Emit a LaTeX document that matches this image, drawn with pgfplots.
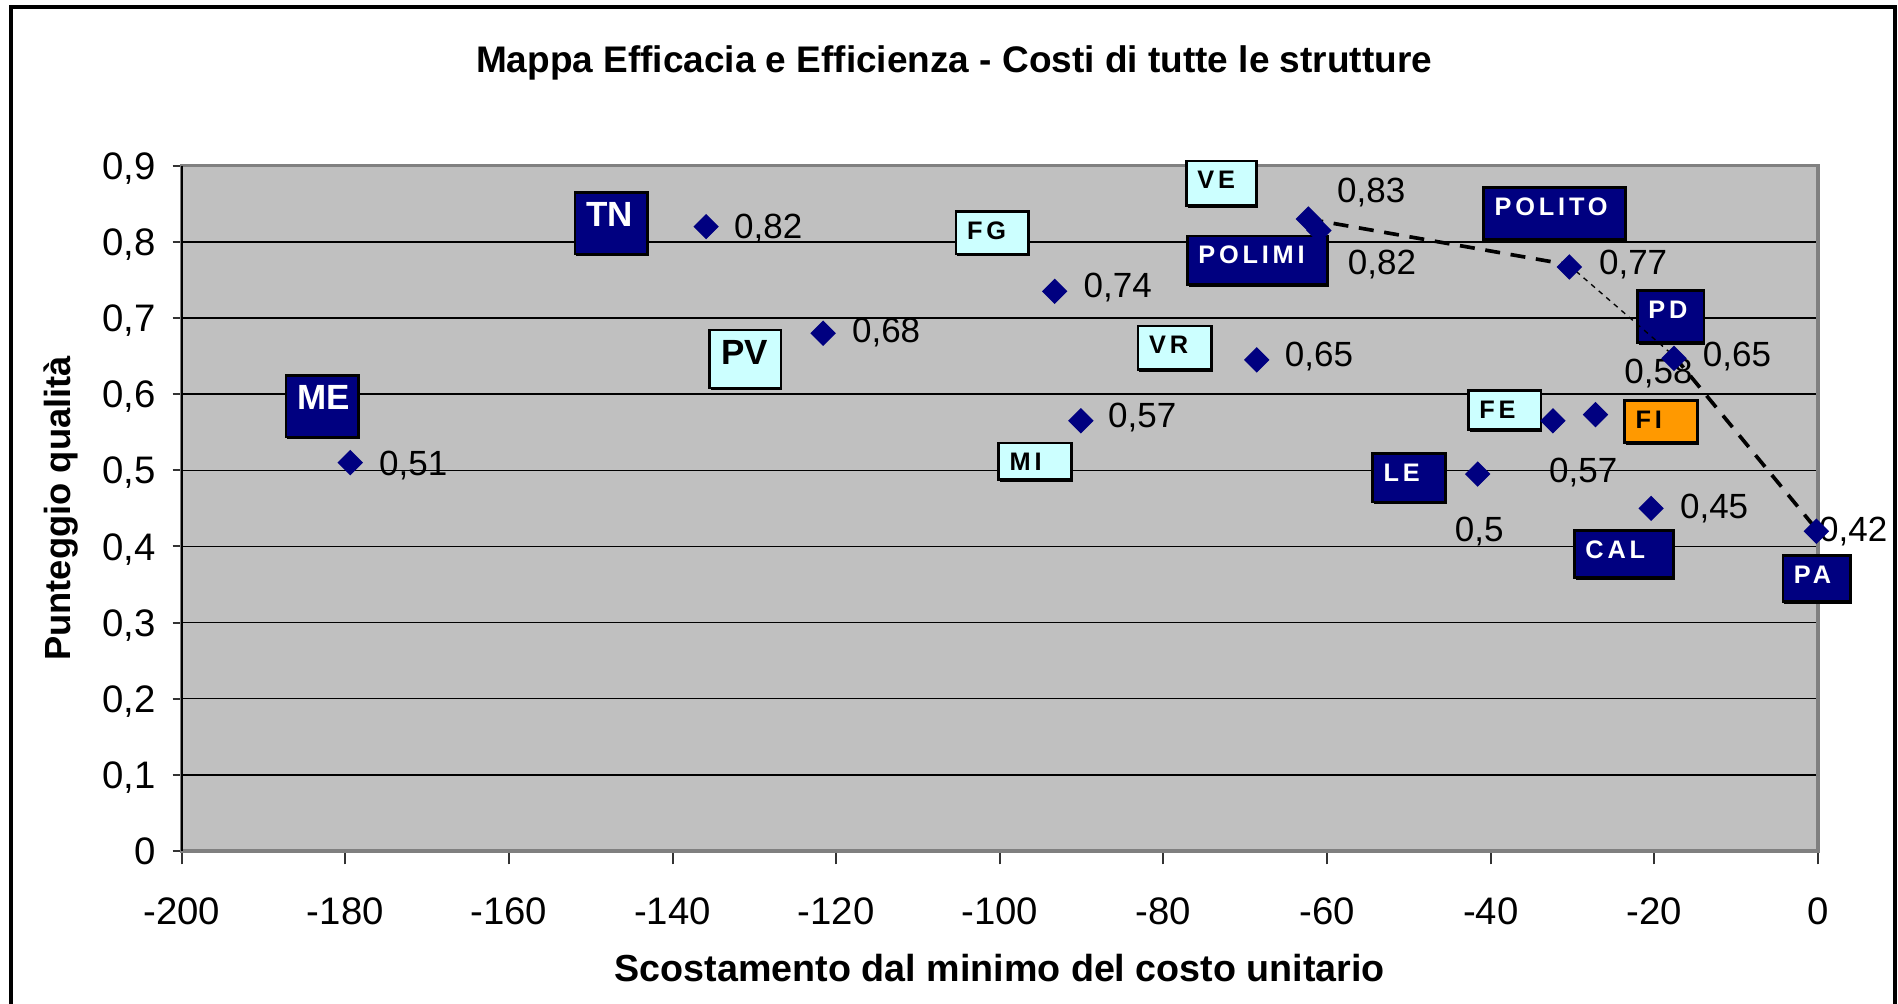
\documentclass[border=0pt]{standalone}
\usepackage{pgfplots}
\pgfplotsset{compat=1.18}
\usetikzlibrary{shadows}
\usepackage{fontspec}
\setmainfont{Liberation Sans}
\newfontfamily\boxfont{Liberation Sans}[LetterSpace=15]
\definecolor{navyb}{HTML}{000080}
\definecolor{cyanb}{HTML}{CCFFFF}
\definecolor{orangeb}{HTML}{FF9900}
\definecolor{plotbg}{HTML}{C0C0C0}
\definecolor{bordergray}{HTML}{808080}
\tikzset{
  lbox/.style={draw=black, line width=0.8pt, inner sep=0pt, anchor=center,
    general shadow={fill=black, shadow xshift=0.4pt, shadow yshift=-0.7pt}},
  nbox/.style={lbox, fill=navyb, label={[anchor=north west, inner sep=0pt, xshift=3.5pt, yshift=-3.3pt, text=white, font=\boxfont\bfseries\fontsize{7.6}{9}\selectfont]north west:#1}},
  cbox/.style={lbox, fill=cyanb, label={[anchor=north west, inner sep=0pt, xshift=3.5pt, yshift=-3.3pt, text=black, font=\boxfont\bfseries\fontsize{7.6}{9}\selectfont]north west:#1}},
  obox/.style={lbox, fill=orangeb, label={[anchor=north west, inner sep=0pt, xshift=3.5pt, yshift=-3.3pt, text=black, font=\boxfont\bfseries\fontsize{7.6}{9}\selectfont]north west:#1}},
  nbig/.style={lbox, fill=navyb, label={[anchor=north west, inner sep=0pt, xshift=3.6pt, yshift=-3.2pt, text=white, font=\bfseries\fontsize{10.5}{12}\selectfont]north west:#1}},
  cbig/.style={lbox, fill=cyanb, label={[anchor=north west, inner sep=0pt, xshift=3.6pt, yshift=-3.2pt, text=black, font=\bfseries\fontsize{10.5}{12}\selectfont]north west:#1}},
  dlab/.style={font=\fontsize{10.5}{12}\selectfont, inner sep=0pt, anchor=center, text height=7.5pt, text depth=0pt},
}
\begin{document}
\begin{tikzpicture}
\path[use as bounding box] (0,0) rectangle (569.4pt,-300.9pt);
\begin{axis}[
  at={(54.5pt,-255.3pt)}, anchor=south west,
  scale only axis, width=490.9pt, height=205.6pt,
  xmin=-200, xmax=0, ymin=0, ymax=0.9,
  clip=false,
  axis background/.style={fill=plotbg},
  axis line style={draw=bordergray, line width=1pt},
  xtick={-200,-180,-160,-140,-120,-100,-80,-60,-40,-20,0},
  xticklabels={-200,-180,-160,-140,-120,-100,-80,-60,-40,-20,0},
  ytick={0,0.1,0.2,0.3,0.4,0.5,0.6,0.7,0.8,0.9},
  yticklabels={0,{0,1},{0,2},{0,3},{0,4},{0,5},{0,6},{0,7},{0,8},{0,9}},
  tick pos=left,
  tick align=outside,
  xtick style={black!80, line width=0.6pt, /pgfplots/major tick length=4pt},
  ytick style={black!80, line width=0.6pt, /pgfplots/major tick length=2.7pt},
  ymajorgrids, grid style={black, line width=0.45pt},
  xticklabel style={font=\fontsize{11.5}{13}\selectfont, inner sep=0pt, anchor=center, text height=8.2pt, text depth=0pt, yshift=-13.8pt},
  yticklabel style={font=\fontsize{11.5}{13}\selectfont, inner sep=0pt, anchor=east, text height=8.2pt, text depth=0pt, xshift=-3.3pt},
  xlabel={Scostamento dal minimo del costo unitario},
  xlabel style={font=\bfseries\fontsize{11.3}{13}\selectfont, at={(axis description cs:0.5,-0.171)}, anchor=center},
  ylabel={Punteggio qualità},
  ylabel style={font=\bfseries\fontsize{10.9}{13}\selectfont, at={(axis description cs:-0.074,0.5)}, anchor=center},
  title={Mappa Efficacia e Efficienza - Costi di tutte le strutture},
  title style={font=\bfseries\fontsize{11.1}{13}\selectfont, at={(axis description cs:0.472,1.121)}, anchor=center},
]
% label boxes
\node[cbox=VE, minimum width=21.1pt, minimum height=13.4pt] at (axis cs:-72.9,0.877) {};
\node[nbig=TN, minimum width=21.8pt, minimum height=18.5pt] at (axis cs:-147.5,0.8245) {};
\node[cbox=FG, minimum width=21.8pt, minimum height=12.7pt] at (axis cs:-100.9,0.812) {};
\node[nbox=POLIMI, minimum width=42.1pt, minimum height=14.5pt] at (axis cs:-68.5,0.776) {};
\node[nbox=POLITO, minimum width=42.5pt, minimum height=15.6pt] at (axis cs:-32.2,0.837) {};
\node[nbox=PD, minimum width=20pt, minimum height=15.6pt] at (axis cs:-18.0,0.702) {};
\node[cbig=PV, minimum width=21.4pt, minimum height=17.4pt] at (axis cs:-131.1,0.646) {};
\node[cbox=VR, minimum width=22.1pt, minimum height=13.1pt] at (axis cs:-78.6,0.661) {};
\node[nbig=ME, minimum width=21.8pt, minimum height=18.5pt] at (axis cs:-182.8,0.584) {};
\node[cbox=FE, minimum width=21.8pt, minimum height=11.6pt] at (axis cs:-38.3,0.579) {};
\node[obox=FI, minimum width=21.8pt, minimum height=12.7pt] at (axis cs:-19.2,0.564) {};
\node[cbox=MI, minimum width=21.8pt, minimum height=10.9pt] at (axis cs:-95.7,0.512) {};
\node[nbox=LE, minimum width=21.8pt, minimum height=14.5pt] at (axis cs:-50.0,0.490) {};
\node[nbox=CAL, minimum width=29.8pt, minimum height=14.2pt] at (axis cs:-23.7,0.390) {};
\node[nbox=PA, minimum width=20.3pt, minimum height=13.8pt] at (axis cs:-0.15,0.358) {};
% frontier line
\addplot[black, line width=1.1pt, dash pattern=on 4.5pt off 3.2pt] coordinates {(-62.3,0.83) (-30.5,0.77)};
\addplot[black, line width=0.4pt, dash pattern=on 1.5pt off 1.5pt] coordinates {(-30.5,0.77) (-17.6,0.65)};
\addplot[black, line width=1.1pt, dash pattern=on 4.5pt off 3.2pt] coordinates {(-17.6,0.65) (0,0.42)};
% data points
\addplot[only marks, mark=square*, mark size=2.5pt, mark options={rotate=45, fill=navyb, draw=navyb}] coordinates {
(-179.4,0.51) (-135.9,0.82) (-121.6,0.68) (-93.3,0.735) (-90.1,0.565)
(-68.6,0.645) (-62.3,0.83) (-61.0,0.815) (-41.6,0.495) (-32.4,0.565)
(-27.2,0.573) (-30.4,0.767) (-20.4,0.45) (-17.6,0.647) (-0.2,0.42)
};
% data labels
\node[dlab] at (axis cs:-128.3,0.8205) {0,82};
\node[dlab] at (axis cs:-113.9,0.684) {0,68};
\node[dlab] at (axis cs:-171.7,0.510) {0,51};
\node[dlab] at (axis cs:-85.6,0.743) {0,74};
\node[dlab] at (axis cs:-82.6,0.572) {0,57};
\node[dlab] at (axis cs:-61.0,0.653) {0,65};
\node[dlab] at (axis cs:-54.6,0.868) {0,83};
\node[dlab] at (axis cs:-53.3,0.774) {0,82};
\node[dlab] at (axis cs:-22.6,0.773) {0,77};
\node[dlab] at (axis cs:-9.9,0.653) {0,65};
\node[dlab] at (axis cs:-19.5,0.630) {0,58};
\node[dlab] at (axis cs:-28.7,0.501) {0,57};
\node[dlab] at (axis cs:-41.4,0.423) {0,5};
\node[dlab] at (axis cs:-12.7,0.453) {0,45};
\node[dlab] at (axis cs:4.3,0.423) {0,42};
\draw[black, line width=0.6pt] (rel axis cs:0,0) -- (rel axis cs:0,1);
\end{axis}
\draw[black, line width=1.3pt] (3.3pt,-2.1pt) rectangle (568.5pt,-320pt);
\end{tikzpicture}
\end{document}
